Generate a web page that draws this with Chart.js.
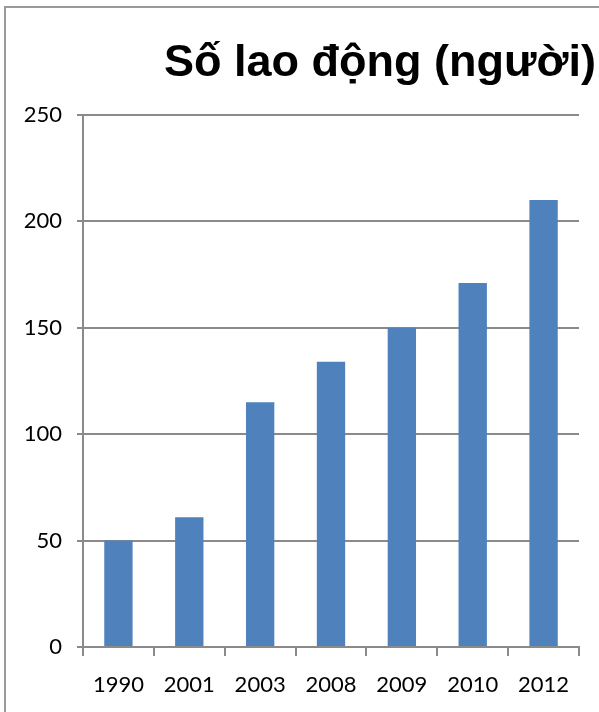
<!DOCTYPE html>
<html lang="vi">
<head>
    <meta charset="UTF-8">
    <title>Số lao động (người)</title>
    <script src="https://cdn.jsdelivr.net/npm/chart.js"></script>
    <style>
        html, body { margin: 0; padding: 0; background: #fff; overflow: hidden; }
        #frame { position: absolute; left: 4px; top: 6px; width: 700px; height: 800px;
                 border-left: 2px solid #9a9a9a; border-top: 2px solid #9a9a9a; }
        #wrap { position: absolute; left: 0; top: 0; width: 599px; height: 712px; }
    </style>
</head>
<body>
    <div id="frame"></div>
    <div id="wrap"><canvas id="laborChart"></canvas></div>
    <script>
        const chartTitle = 'Số lao động (người)';
        const years = ['1990', '2001', '2003', '2008', '2009', '2010', '2012'];
        const workers = [50, 61, 115, 134, 150, 171, 210];
        const yTicks = [0, 50, 100, 150, 200, 250];

        // title sits right of centre in the original, so draw it ourselves
        const rightTitle = {
            id: 'rightTitle',
            afterDraw(chart) {
                const ctx = chart.ctx;
                ctx.save();
                ctx.font = 'bold 45px "Liberation Sans", Arial, sans-serif';
                ctx.fillStyle = '#000';
                ctx.textAlign = 'right';
                ctx.textBaseline = 'alphabetic';
                ctx.fillText(chartTitle, 596, 76);
                ctx.restore();
            }
        };

        const gridGray = '#8a8a8a';
        const tickFont = { family: 'Lato', size: 22 };

        new Chart(document.getElementById('laborChart'), {
            type: 'bar',
            data: {
                labels: years,
                datasets: [{
                    data: workers,
                    backgroundColor: '#4F81BD',
                    borderWidth: 0,
                    categoryPercentage: 1,
                    barPercentage: 0.4
                }]
            },
            plugins: [rightTitle],
            options: {
                responsive: true,
                maintainAspectRatio: false,
                animation: false,
                layout: { padding: { top: 115, right: 20, left: 0, bottom: 0 } },
                plugins: { legend: { display: false }, tooltip: { enabled: false } },
                scales: {
                    x: {
                        offset: true,
                        grid: { offset: true, drawOnChartArea: false, drawTicks: true, tickLength: 9, color: gridGray, lineWidth: 2 },
                        border: { display: true, color: gridGray, width: 2 },
                        ticks: { color: '#000', font: tickFont, padding: 16, maxRotation: 0 },
                        afterFit(scale) { scale.height = 65; }
                    },
                    y: {
                        min: 0,
                        max: 250,
                        afterBuildTicks(scale) { scale.ticks = yTicks.map(v => ({ value: v })); },
                        grid: { color: gridGray, lineWidth: 2, tickLength: 6 },
                        border: { display: true, color: gridGray, width: 2 },
                        ticks: { color: '#000', font: tickFont, padding: 15 },
                        afterFit(scale) { scale.width = 83; }
                    }
                }
            }
        });
    </script>
</body>
</html>
